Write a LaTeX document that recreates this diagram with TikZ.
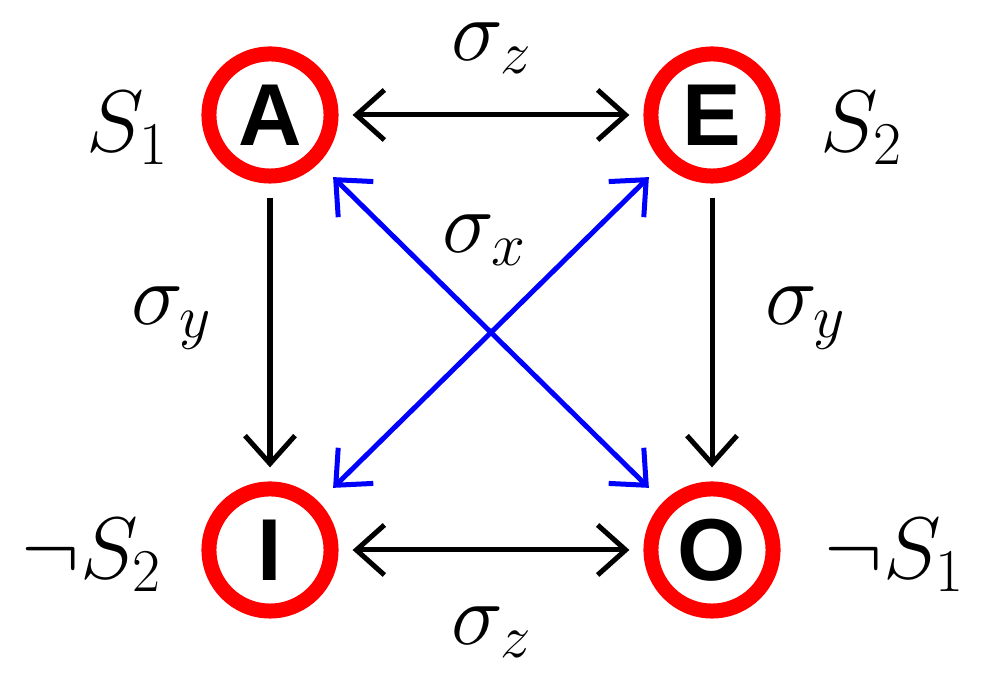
\documentclass[tikz,border=0pt]{standalone}
\usepackage{fontspec}
\newfontfamily\lsans{Liberation Sans}
\usetikzlibrary{arrows.meta}
\newcommand{\ctrletter}[1]{\raisebox{-0.5\height}{#1}}
\begin{document}
\begin{tikzpicture}[x=0.01cm,y=-0.01cm,
  vtx/.style={circle,draw=red,line width=0.15cm,fill=white,minimum size=1.22cm,inner sep=0pt,text height=0pt,text depth=0pt,font=\lsans\bfseries\fontsize{25}{25}\selectfont},
  tip/.tip={Straight Barb[length=0.28cm,width=0.5cm,line width=0.05cm]},
  arr/.style={line width=0.05cm,{tip}-{tip}},
  one/.style={line width=0.05cm,-{tip}},
  lbl/.style={font=\fontsize{27}{27}\selectfont}]
\useasboundingbox (0,0) rectangle (990,686);
\node[vtx] (A) at (270,115) {\ctrletter{A}};
\node[vtx] (E) at (712,115) {\ctrletter{E}};
\node[vtx] (I) at (270,550) {\ctrletter{I}};
\node[vtx] (O) at (712,550) {\ctrletter{O}};
\draw[arr,shorten <=4pt,shorten >=4pt] (A) -- (E);
\draw[arr,shorten <=4pt,shorten >=4pt] (I) -- (O);
\draw[one,shorten <=4pt,shorten >=4pt] (A) -- (I);
\draw[one,shorten <=4pt,shorten >=4pt] (E) -- (O);
\draw[arr,blue,shorten <=0.2cm,shorten >=0.2cm] (A) -- (O);
\draw[arr,blue,shorten <=0.2cm,shorten >=0.2cm] (I) -- (E);
\node[lbl] (sz1) at (492,48) {$\sigma_z$};
\node[lbl] (sz2) at (492,632) {$\sigma_z$};
\node[lbl] (sx) at (485,240) {$\sigma_x$};
\node[lbl] (sy1) at (172,318) {$\sigma_y$};
\node[lbl] (sy2) at (806,318) {$\sigma_y$};
\node[lbl] (s1) at (128,128) {$S_1$};
\node[lbl] (s2) at (862,128) {$S_2$};
\node[lbl] (ns2) at (92,555) {$\neg S_2$};
\node[lbl] (ns1) at (895,555) {$\neg S_1$};
\end{tikzpicture}
\end{document}
